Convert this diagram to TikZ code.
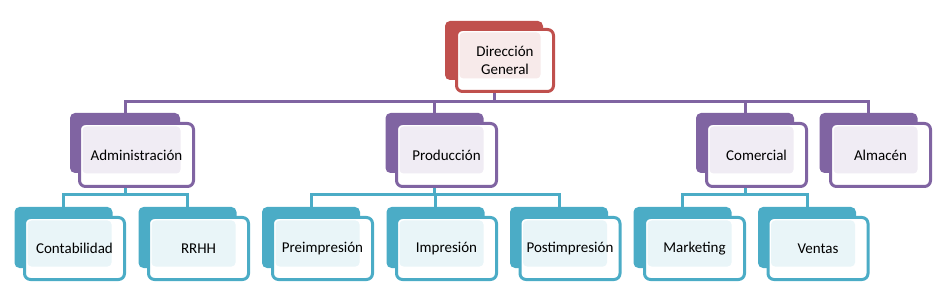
\documentclass[tikz,border=0pt]{standalone}
\usepackage{fontspec}
\setmainfont{Carlito}
\usetikzlibrary{calc,positioning,backgrounds}
\definecolor{orgred}{RGB}{192,80,77}
\definecolor{orgpurple}{RGB}{128,100,162}
\definecolor{orgteal}{RGB}{75,172,198}

\tikzset{
  backbox/.style={fill=#1, rounded corners=5pt, minimum width=98pt,
    minimum height=60pt, inner sep=0pt},
  frontbox/.style={draw=#1, line width=3pt, fill=white, rounded corners=6pt,
    minimum width=100pt, minimum height=62pt, inner sep=0pt, align=center,
    font=\fontsize{15}{17.5}\selectfont,
    path picture={\fill[#1!12, rounded corners=4pt]
      ($(path picture bounding box.north west)+(3pt,-3pt)$) rectangle
      ($(path picture bounding box.south east)+(-13pt,13pt)$);}},
  link/.style={draw=#1, line width=3pt}
}

\begin{document}
\begin{tikzpicture}[x=1pt,y=-1pt]
  \useasboundingbox (0,0) rectangle (945,307);
  % top
  \node[backbox=orgred, minimum height=59pt] (dir-b) at (494,50.5) {};
  \node[frontbox=orgred, minimum width=97pt] (dir) at (505,60.5) {Dirección\\General};
  % second row
  \node[backbox=orgpurple, minimum width=110pt] (adm-b) at (125,143) {};
  \node[frontbox=orgpurple, minimum width=114pt, minimum height=63pt] (adm) at (136.5,155) {Administración};
  \node[backbox=orgpurple] (prod-b) at (434.5,143) {};
  \node[frontbox=orgpurple, minimum height=63pt] (prod) at (446.5,155) {Producción};
  \node[backbox=orgpurple] (com-b) at (745,143) {};
  \node[frontbox=orgpurple, minimum height=63pt] (com) at (756.5,155) {Comercial};
  \node[backbox=orgpurple] (alm-b) at (868.5,143) {};
  \node[frontbox=orgpurple, minimum height=63pt] (alm) at (880.5,155) {Almacén};
  % third row
  \node[backbox=orgteal, minimum height=61pt] (cont-b) at (63.5,237.5) {};
  \node[frontbox=orgteal] (cont) at (74.5,248.5) {Contabilidad};
  \node[backbox=orgteal, minimum height=61pt] (rrhh-b) at (187.5,237.5) {};
  \node[frontbox=orgteal] (rrhh) at (198.5,248.5) {RRHH};
  \node[backbox=orgteal, minimum height=61pt] (pre-b) at (311,237.5) {};
  \node[frontbox=orgteal] (pre) at (322.5,248.5) {Preimpresión};
  \node[backbox=orgteal, minimum height=61pt] (imp-b) at (435.5,237.5) {};
  \node[frontbox=orgteal] (imp) at (446.5,248.5) {Impresión};
  \node[backbox=orgteal, minimum height=61pt] (post-b) at (559,237.5) {};
  \node[frontbox=orgteal] (post) at (570,248.5) {Postimpresión};
  \node[backbox=orgteal, minimum height=61pt] (mkt-b) at (682.5,237.5) {};
  \node[frontbox=orgteal] (mkt) at (694.5,248.5) {Marketing};
  \node[backbox=orgteal, minimum height=61pt] (ven-b) at (807,237.5) {};
  \node[frontbox=orgteal] (ven) at (818,248.5) {Ventas};
  % connectors
  \coordinate (bus) at (0,102);
  \coordinate (sub) at (0,195);
  \begin{pgfonlayer}{background}
    \draw[link=orgpurple] (dir-b) -- (dir-b |- bus);
    \draw[link=orgpurple] (adm-b) -- (adm-b |- bus) -- (alm-b |- bus) -- (alm-b);
    \draw[link=orgpurple] (prod-b) -- (prod-b |- bus);
    \draw[link=orgpurple] (com-b) -- (com-b |- bus);
    \draw[link=orgteal] (adm-b) -- (adm-b |- sub);
    \draw[link=orgteal] (cont-b) -- (cont-b |- sub) -- (rrhh-b |- sub) -- (rrhh-b);
    \draw[link=orgteal] (prod-b) -- (prod-b |- sub);
    \draw[link=orgteal] (pre-b) -- (pre-b |- sub) -- (post-b |- sub) -- (post-b);
    \draw[link=orgteal] (imp-b) -- (imp-b |- sub);
    \draw[link=orgteal] (com-b) -- (com-b |- sub);
    \draw[link=orgteal] (mkt-b) -- (mkt-b |- sub) -- (ven-b |- sub) -- (ven-b);
  \end{pgfonlayer}
\end{tikzpicture}
\end{document}
